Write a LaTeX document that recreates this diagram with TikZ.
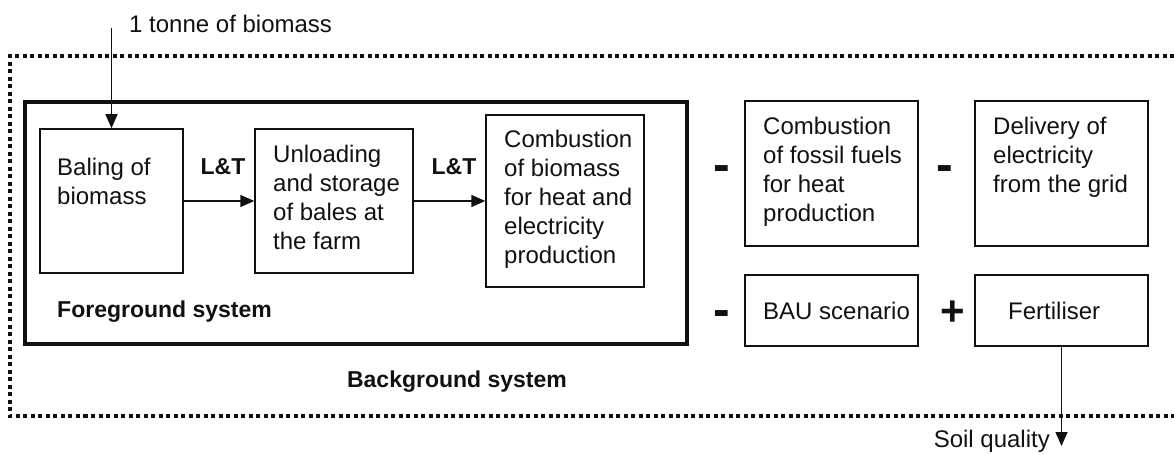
\documentclass[tikz,border=0pt]{standalone}
\usepackage{fontspec}
\setmainfont{Liberation Sans}
\usetikzlibrary{arrows.meta}
\definecolor{lcaink}{HTML}{111111}
\tikzset{
  lcatext/.style={font=\fontsize{24}{29}\selectfont, text=lcaink, inner sep=0pt, align=left},
  lcabold/.style={font=\fontsize{23}{28}\selectfont\bfseries, text=lcaink, inner sep=0pt},
  lcasign/.style={font=\fontsize{50}{50}\selectfont\bfseries, text=lcaink, inner sep=0pt, anchor=base},
  procbox/.style={draw=lcaink, line width=1.5pt, inner sep=0pt},
  fgframe/.style={draw=lcaink, line width=4pt, inner sep=0pt},
  bgframe/.style={draw=lcaink, line width=4pt, dash pattern=on 4pt off 3.5pt},
  lcaflow/.style={-{Triangle[length=14pt,width=12pt]}, draw=lcaink, line width=1.5pt}
}
\begin{document}
\begin{tikzpicture}[x=1pt,y=-1pt]
  \useasboundingbox (0,0) rectangle (1174,454);
  % background system: open on the right
  \draw[bgframe] (1174,56) -- (10,56) -- (10,416) -- (1174,416);
  \node[fgframe, minimum width=662pt, minimum height=242pt] (fground) at (356,223) {};

  \foreach \nm/\x/\y/\w/\h in {
    baling/111.5/201/143/144, unload/334/201/158/144, burnbio/565/201/158/172,
    fossil/831.5/173.5/173/145, grid/1061.5/173.5/173/145,
    bau/831.5/310.5/173/71, fert/1061.5/310.5/173/71
  } {
    \node[procbox, minimum width=\w pt, minimum height=\h pt] (\nm) at (\x,\y) {};
  }

  \node[lcatext, anchor=north west] (balingtxt) at (57,158) {Baling of\\biomass};
  \node[lcatext, anchor=north west] (unloadtxt) at (273,145) {Unloading\\and storage\\of bales at\\the farm};
  \node[lcatext, anchor=north west] (burnbiotxt) at (504,130) {Combustion\\of biomass\\for heat and\\electricity\\production};
  \node[lcatext, anchor=north west] (fossiltxt) at (763,117) {Combustion\\of fossil fuels\\for heat\\production};
  \node[lcatext, anchor=north west] (gridtxt) at (993,117) {Delivery of\\electricity\\from the grid};
  \node[lcatext, anchor=west] (bautxt) at (763,311) {BAU scenario};
  \node[lcatext, anchor=west] (ferttxt) at (1008,311) {Fertiliser};

  \node[lcabold] (lt1) at (223,167) {L\&T};
  \node[lcabold] (lt2) at (454,167) {L\&T};
  \node[lcabold, anchor=west] (fglabel) at (57,312) {Foreground system};
  \node[lcabold] (bglabel) at (457,382) {Background system};

  \node[lcasign] (minus1) at (722,182) {-};
  \node[lcasign] (minus2) at (945,182) {-};
  \node[lcasign] (minus3) at (722,326) {-};
  \node[lcasign, font=\fontsize{42}{42}\selectfont\bfseries] (plus1) at (953,325) {+};

  \node[lcatext, anchor=west] (tonne) at (129,24) {1 tonne of biomass};
  \coordinate (tonnein) at (111.5,28);
  \node[lcatext, anchor=base east] (soil) at (1050,447) {Soil quality};
  \coordinate (soilout) at (1061.5,446);

  \draw[lcaflow] (tonnein) -- (baling);
  \draw[lcaflow] (baling) -- (unload);
  \draw[lcaflow] (unload) -- (burnbio);
  \draw[lcaflow] (fert) -- (soilout);
\end{tikzpicture}
\end{document}
